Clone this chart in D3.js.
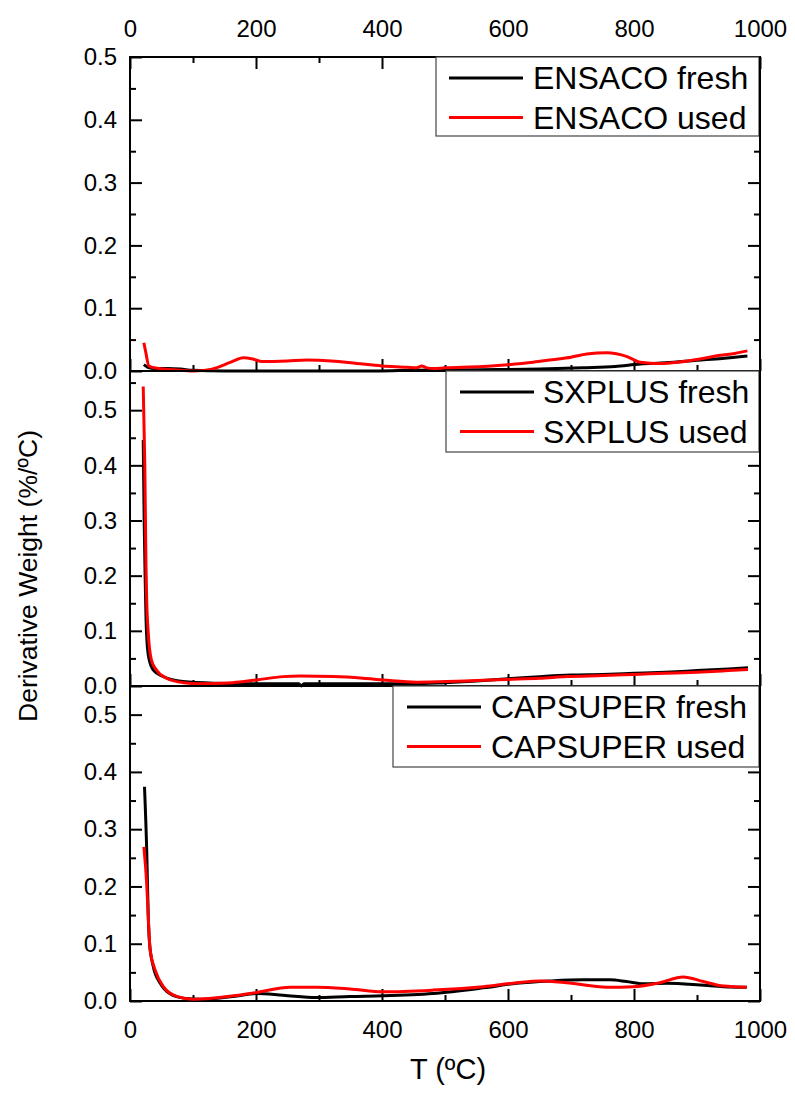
<!DOCTYPE html>
<html>
<head>
<meta charset="utf-8">
<script src="https://cdn.jsdelivr.net/npm/d3@7"></script>
<style>
  body { margin: 0; background: #fff; }
  svg { display: block; }
  text { font-family: "Liberation Sans", Arial, sans-serif; fill: #000; }
</style>
</head>
<body>
<script>
// ///////// data: [T (ºC), derivative weight (%/ºC)] ///////////
const xTicks = [0, 200, 400, 600, 800, 1000];
const yTicks = [0, 0.1, 0.2, 0.3, 0.4, 0.5];

const ensacoFresh = [
  [22, 0.010], [28, 0.006], [40, 0.004], [60, 0.004], [80, 0.003], [100, 0.001],
  [150, 0.0], [250, 0.0], [350, 0.0], [450, 0.001], [550, 0.002], [650, 0.003],
  [720, 0.005], [770, 0.007], [810, 0.011], [850, 0.013], [900, 0.017],
  [940, 0.020], [980, 0.024]
];
const ensacoUsed = [
  [22, 0.045], [25, 0.030], [30, 0.008], [45, 0.004], [70, 0.002], [100, 0.0],
  [130, 0.003], [160, 0.014], [180, 0.021], [195, 0.019], [210, 0.015],
  [250, 0.016], [280, 0.0175], [320, 0.016], [360, 0.012], [400, 0.008],
  [440, 0.006], [455, 0.005], [463, 0.008], [471, 0.005], [482, 0.004],
  [500, 0.005], [560, 0.007], [600, 0.010], [640, 0.014], [670, 0.018],
  [700, 0.022], [725, 0.027], [757, 0.029], [789, 0.023], [810, 0.014],
  [841, 0.012], [870, 0.014], [905, 0.019], [937, 0.025], [960, 0.028],
  [980, 0.032]
];
const sxplusFresh = [
  [21, 0.446], [22.5, 0.30], [24, 0.20], [25.5, 0.12], [27, 0.08], [30.6, 0.047],
  [37, 0.029], [53, 0.017], [84, 0.008], [138, 0.005], [200, 0.004], [268, 0.004],
  [272, 0.0], [276, 0.004], [350, 0.004], [450, 0.004], [500, 0.006], [550, 0.009],
  [600, 0.013], [650, 0.017], [700, 0.020], [750, 0.021], [800, 0.023],
  [850, 0.025], [900, 0.028], [950, 0.031], [981, 0.033]
];
const sxplusUsed = [
  [21, 0.543], [23.5, 0.40], [25.4, 0.216], [26.5, 0.156], [29, 0.096],
  [34, 0.047], [42, 0.029], [58, 0.014], [85, 0.006], [111, 0.004], [163, 0.006],
  [201, 0.011], [243, 0.017], [270, 0.018], [323, 0.017], [370, 0.014],
  [402, 0.011], [455, 0.007], [503, 0.008], [550, 0.010], [600, 0.012],
  [650, 0.014], [693, 0.017], [750, 0.019], [800, 0.021], [850, 0.023],
  [900, 0.025], [950, 0.028], [981, 0.030]
];
const capsuperFresh = [
  [23, 0.374], [26.5, 0.264], [29, 0.147], [31, 0.101], [37, 0.060], [48, 0.031],
  [63, 0.013], [85, 0.005], [111, 0.003], [164, 0.008], [201, 0.013], [243, 0.010],
  [296, 0.006], [349, 0.008], [402, 0.009], [481, 0.013], [561, 0.023],
  [614, 0.031], [667, 0.035], [719, 0.037], [762, 0.037], [788, 0.034],
  [815, 0.030], [852, 0.031], [905, 0.028], [942, 0.025], [979, 0.024]
];
const capsuperUsed = [
  [22, 0.269], [26.5, 0.205], [29, 0.147], [32, 0.089], [40, 0.054], [53, 0.025],
  [74, 0.008], [100, 0.003], [164, 0.009], [201, 0.015], [254, 0.024],
  [296, 0.024], [349, 0.021], [402, 0.016], [481, 0.019], [561, 0.025],
  [614, 0.032], [651, 0.035], [693, 0.032], [757, 0.024], [799, 0.025],
  [841, 0.032], [878, 0.042], [910, 0.034], [942, 0.026], [979, 0.024]
];

const panelNames = ["ENSACO", "SXPLUS", "CAPSUPER"];
const panelMax = [0.5, 0.571, 0.55];
const panelSeries = [
  [ensacoFresh, ensacoUsed],
  [sxplusFresh, sxplusUsed],
  [capsuperFresh, capsuperUsed]
];

// ///////// layout ///////////
const width = 795,
  height = 1097,
  left = 130,
  right = 760,
  panelTops = [57, 371, 686],
  panelBottoms = [371, 686, 1001],
  legendBoxes = [
    { x: 436, y: 57, w: 323, h: 79, line: 449, text: 533 },
    { x: 446, y: 371, w: 313, h: 81, line: 460, text: 543 },
    { x: 393, y: 686, w: 366, h: 81, line: 407, text: 491 }
  ];

const svg = d3
  .select("body")
  .append("svg")
  .attr("width", width)
  .attr("height", height);

const x = d3.scaleLinear().domain([0, 1000]).range([left, right]);
const minorX = d3.range(100, 1000, 200);

function styleAxis(g, size) {
  g.attr("font-size", size).attr("font-family", "Liberation Sans, Arial, sans-serif");
  g.select(".domain").remove();
  g.selectAll("line").attr("stroke", "#000").attr("stroke-width", 2);
}

panelNames.forEach((name, i) => {
  const top = panelTops[i],
    bottom = panelBottoms[i];
  const y = d3.scaleLinear().domain([0, panelMax[i]]).range([bottom, top]);
  const minorY = d3.range(0.05, panelMax[i], 0.1);

  const g = svg.append("g").attr("class", "panel");

  // ////// left axis //////
  g.append("g")
    .attr("transform", `translate(${left},0)`)
    .call(d3.axisLeft(y).tickValues(yTicks).tickFormat(d3.format(".1f")).tickSize(-12).tickPadding(13))
    .call(styleAxis, 24);
  g.append("g")
    .attr("transform", `translate(${left},0)`)
    .call(d3.axisLeft(y).tickValues(minorY).tickFormat("").tickSize(-6))
    .call(styleAxis, 24);

  // ////// right axis (ticks only) //////
  g.append("g")
    .attr("transform", `translate(${right},0)`)
    .call(d3.axisRight(y).tickValues(yTicks).tickFormat("").tickSize(-12))
    .call(styleAxis, 24);
  g.append("g")
    .attr("transform", `translate(${right},0)`)
    .call(d3.axisRight(y).tickValues(minorY).tickFormat("").tickSize(-6))
    .call(styleAxis, 24);

  // ////// bottom axis //////
  g.append("g")
    .attr("transform", `translate(0,${bottom})`)
    .call(
      d3.axisBottom(x).tickValues(xTicks).tickSize(-12).tickPadding(20)
        .tickFormat(i === 2 ? d3.format("d") : "")
    )
    .call(styleAxis, 24);
  g.append("g")
    .attr("transform", `translate(0,${bottom})`)
    .call(d3.axisBottom(x).tickValues(minorX).tickFormat("").tickSize(-6))
    .call(styleAxis, 24);

  // ////// top axis on first panel //////
  if (i === 0) {
    g.append("g")
      .attr("transform", `translate(0,${top})`)
      .call(d3.axisTop(x).tickValues(xTicks).tickSize(-12).tickPadding(20).tickFormat(d3.format("d")))
      .call(styleAxis, 24);
    g.append("g")
      .attr("transform", `translate(0,${top})`)
      .call(d3.axisTop(x).tickValues(minorX).tickFormat("").tickSize(-6))
      .call(styleAxis, 24);
  }

  // ////// frame //////
  g.append("rect")
    .attr("x", left)
    .attr("y", top)
    .attr("width", right - left)
    .attr("height", bottom - top)
    .attr("fill", "none")
    .attr("stroke", "#000")
    .attr("stroke-width", 2);

  // ////// curves //////
  const line = d3
    .line()
    .x((d) => x(d[0]))
    .y((d) => y(d[1]))
    .curve(d3.curveMonotoneX);

  const colors = ["#000000", "#ff0000"];
  panelSeries[i].forEach((series, k) => {
    g.append("path")
      .datum(series)
      .attr("d", line)
      .attr("fill", "none")
      .attr("stroke", colors[k])
      .attr("stroke-width", 3)
      .attr("stroke-linejoin", "round");
  });

  // ////// legend //////
  const lb = legendBoxes[i];
  const legend = g.append("g").attr("class", "legend");
  legend
    .append("rect")
    .attr("x", lb.x)
    .attr("y", lb.y)
    .attr("width", lb.w)
    .attr("height", lb.h)
    .attr("fill", "#fff")
    .attr("stroke", "#444")
    .attr("stroke-width", 1.2);

  const labels = [`${name} fresh`, `${name} used`];
  labels.forEach((lab, k) => {
    const ry = lb.y + 21 + k * 39.5;
    legend
      .append("line")
      .attr("x1", lb.line)
      .attr("x2", lb.line + 74)
      .attr("y1", ry)
      .attr("y2", ry)
      .attr("stroke", colors[k])
      .attr("stroke-width", 3);
    legend
      .append("text")
      .attr("x", lb.text)
      .attr("y", ry + 11)
      .attr("font-size", 32)
      .text(lab);
  });

  // right border redrawn over legend box
  g.append("line")
    .attr("x1", right)
    .attr("x2", right)
    .attr("y1", top)
    .attr("y2", bottom)
    .attr("stroke", "#000")
    .attr("stroke-width", 2);
});

// ////// axis titles //////
svg
  .append("text")
  .attr("transform", `translate(37,576) rotate(-90)`)
  .attr("text-anchor", "middle")
  .attr("font-size", 26.5)
  .text("Derivative Weight (%/ºC)");

svg
  .append("text")
  .attr("x", 448)
  .attr("y", 1079)
  .attr("text-anchor", "middle")
  .attr("font-size", 29)
  .text("T (ºC)");
</script>
</body>
</html>
